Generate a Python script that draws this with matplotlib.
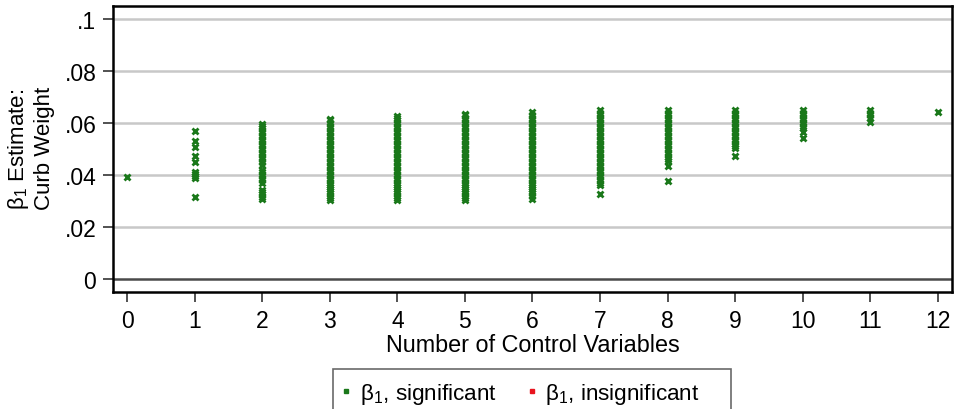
import matplotlib
matplotlib.use("Agg")
import matplotlib.pyplot as plt
from matplotlib.lines import Line2D

plt.rcParams["font.family"] = ["Liberation Sans", "DejaVu Sans"]
plt.rcParams["mathtext.fontset"] = "custom"
plt.rcParams["mathtext.rm"] = "Liberation Sans"
plt.rcParams["mathtext.it"] = "Liberation Sans"

# beta_1 estimates by number of control variables
n_controls = list(range(13))
est_0 = [0.0394]
est_1 = [0.0568, 0.0532, 0.0507, 0.0472, 0.0449, 0.0412, 0.0404, 0.0396, 0.0388, 0.0317]
est_2 = [0.0595, 0.059, 0.058, 0.057, 0.056, 0.055, 0.054, 0.053, 0.052, 0.051, 0.050,
         0.049, 0.048, 0.047, 0.046, 0.045, 0.0438, 0.0418, 0.041, 0.040, 0.039, 0.0380,
         0.0368, 0.0343, 0.0335, 0.0326, 0.0317, 0.0309]
est_3 = [0.0615, 0.061, 0.060, 0.059, 0.058, 0.057, 0.056, 0.055, 0.054, 0.053, 0.052,
         0.051, 0.050, 0.049, 0.048, 0.047, 0.046, 0.045, 0.044, 0.043, 0.042, 0.041,
         0.040, 0.039, 0.038, 0.037, 0.036, 0.0354, 0.0345, 0.034, 0.033, 0.032, 0.031, 0.0302]
est_4 = [0.0628, 0.062, 0.061, 0.060, 0.059, 0.058, 0.057, 0.056, 0.055, 0.054, 0.053,
         0.052, 0.051, 0.050, 0.049, 0.048, 0.047, 0.046, 0.045, 0.044, 0.043, 0.042,
         0.041, 0.040, 0.039, 0.038, 0.037, 0.036, 0.0354, 0.0345, 0.034, 0.033, 0.032,
         0.031, 0.0302]
est_5 = [0.0635, 0.063, 0.062, 0.061, 0.060, 0.059, 0.058, 0.057, 0.056, 0.055, 0.054,
         0.053, 0.052, 0.051, 0.050, 0.049, 0.048, 0.047, 0.046, 0.045, 0.044, 0.043,
         0.042, 0.041, 0.040, 0.039, 0.038, 0.037, 0.036, 0.0354, 0.0345, 0.034, 0.033,
         0.032, 0.031, 0.0302]
est_6 = [0.0642, 0.063, 0.062, 0.061, 0.060, 0.059, 0.058, 0.057, 0.056, 0.055, 0.054,
         0.053, 0.052, 0.051, 0.050, 0.049, 0.048, 0.047, 0.046, 0.045, 0.044, 0.043,
         0.042, 0.041, 0.040, 0.039, 0.038, 0.037, 0.036, 0.0353, 0.0345, 0.034, 0.033,
         0.032, 0.0308]
est_7 = [0.0648, 0.064, 0.063, 0.062, 0.061, 0.060, 0.059, 0.058, 0.057, 0.056, 0.055,
         0.054, 0.053, 0.052, 0.051, 0.050, 0.049, 0.048, 0.047, 0.046, 0.045, 0.044,
         0.043, 0.042, 0.041, 0.0398, 0.0392, 0.038, 0.037, 0.036, 0.0327]
est_8 = [0.0648, 0.064, 0.063, 0.062, 0.061, 0.060, 0.059, 0.058, 0.057, 0.056, 0.055,
         0.054, 0.053, 0.052, 0.051, 0.050, 0.049, 0.048, 0.047, 0.046, 0.0452, 0.0436,
         0.0378]
est_9 = [0.0648, 0.064, 0.063, 0.062, 0.061, 0.060, 0.059, 0.058, 0.057, 0.056, 0.055,
         0.054, 0.053, 0.052, 0.051, 0.0502, 0.0474]
est_10 = [0.0648, 0.064, 0.063, 0.062, 0.061, 0.060, 0.059, 0.058, 0.0564, 0.0542]
est_11 = [0.0648, 0.064, 0.063, 0.062, 0.0605]
est_12 = [0.0642]
estimates = [est_0, est_1, est_2, est_3, est_4, est_5, est_6, est_7, est_8, est_9,
             est_10, est_11, est_12]

y_ticks = [0, 0.02, 0.04, 0.06, 0.08, 0.1]
y_labels = ["0", ".02", ".04", ".06", ".08", ".1"]

green = "#1a781a"
red = "#e8141e"

fig = plt.figure(figsize=(9.56, 4.10), dpi=100)
ax = fig.add_axes([0.1182, 0.2854, 0.8776, 0.6976])

for k, ys in zip(n_controls, estimates):
    ax.plot([k] * len(ys), ys, linestyle="none", marker="x", color=green,
            markersize=4.2, markeredgewidth=2.0, zorder=3)

ax.set_xlim(-0.21, 12.21)
ax.set_ylim(-0.005, 0.105)
ax.set_yticks(y_ticks)
ax.set_yticklabels(y_labels)
ax.set_xticks(n_controls)
for t in y_ticks[1:]:
    ax.axhline(t, color="#c8c8c8", lw=1.8, zorder=1)
ax.axhline(0, color="#4a4a4a", lw=1.8, zorder=1)

ax.tick_params(axis="both", direction="out", length=7, width=1.2, labelsize=16.5,
               color="#333333", pad=5)
for s in ax.spines.values():
    s.set_linewidth(1.8)
    s.set_color("black")

ax.set_xlabel("Number of Control Variables", fontsize=16.8, labelpad=1)

# two-line y title, set tight like the original
fig.text(0.0195, 0.488, "β$_1$ Estimate:", rotation=90, fontsize=16,
         ha="center", va="bottom")
fig.text(0.0465, 0.488, "Curb Weight", rotation=90, fontsize=16,
         ha="center", va="bottom")

handles = [Line2D([], [], linestyle="none", marker="s", color=green, markersize=2.5),
           Line2D([], [], linestyle="none", marker="s", color=red, markersize=2.5)]
leg = fig.legend(handles, ["β$_1$, significant", "β$_1$, insignificant    "],
                 loc="upper left", bbox_to_anchor=(0.348, 0.0976), ncol=2,
                 fontsize=16.2, frameon=True, fancybox=False, edgecolor="#444444",
                 handlelength=0.1, handletextpad=0.55, columnspacing=1.5,
                 borderpad=0.55, borderaxespad=0)
leg.get_frame().set_linewidth(1.2)

fig.savefig("out.png", dpi=100)
